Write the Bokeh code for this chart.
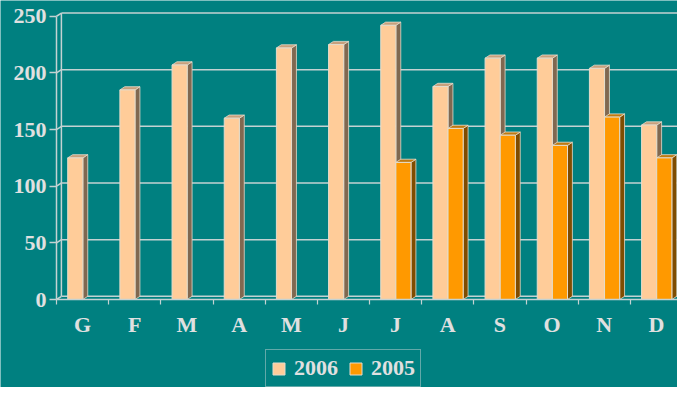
from bokeh.plotting import figure
from bokeh.models import FixedTicker, Legend, LegendItem, Range1d
from bokeh.embed import file_html
from bokeh.resources import INLINE

# ---- data ----
months = ["G", "F", "M", "A", "M", "J", "J", "A", "S", "O", "N", "D"]
v2006 = [125, 185, 207, 160, 222, 225, 242, 188, 213, 213, 204, 154]
v2005 = [None, None, None, None, None, None, 121, 151, 145, 136, 161, 125]
y_ticks = [0, 50, 100, 150, 200, 250]
series_names = ["2006", "2005"]

# ---- style ----
BG = "#008080"
TXT = "#e0e0e0"
GRID = "#c4d2d2"
FONT = "Liberation Serif"
C06 = ("#FFCC99", "#806850", "#C8A07C")
C05 = ("#FF9900", "#7F4C00", "#C07A10")
EDGE = "#e4dccc"

W, H = 677, 387
AXIS_X = 56           # pixel column of the front y axis
ZERO_Y = 299          # pixel row of value 0 (front floor edge)
PX_CAT = 52.17
PX_UNIT = 1.133
DX = 4.9 / PX_CAT
DY = 3.2 / PX_UNIT

p = figure(width=W, height=H, output_backend="svg", toolbar_location=None,
           x_range=Range1d(-AXIS_X / PX_CAT, (W - AXIS_X) / PX_CAT),
           y_range=Range1d(-(H - ZERO_Y) / PX_UNIT, ZERO_Y / PX_UNIT),
           min_border=0,
           background_fill_color=BG, border_fill_color=BG, outline_line_color=None)
p.grid.visible = False

xend = (W - AXIS_X) / PX_CAT

# back wall gridlines, connectors and wall edge
p.segment(x0=[DX] * len(y_ticks), y0=[t + DY for t in y_ticks],
          x1=[xend] * len(y_ticks), y1=[t + DY for t in y_ticks],
          line_color=GRID, line_width=1.5)
p.segment(x0=[0] * len(y_ticks), y0=y_ticks,
          x1=[DX] * len(y_ticks), y1=[t + DY for t in y_ticks],
          line_color=GRID, line_width=1.5)
p.segment(x0=[DX], y0=[DY], x1=[DX], y1=[y_ticks[-1] + DY], line_color=GRID, line_width=1.5)


def draw_series(vals, off_l, off_r, colors):
    idx = [i for i, v in enumerate(vals) if v is not None]
    L = [i + off_l for i in idx]
    R = [i + off_r for i in idx]
    V = [vals[i] for i in idx]
    p.patches(xs=[[r, r + DX, r + DX, r] for r in R],
              ys=[[0, DY, v + DY, v] for v in V],
              fill_color=colors[1], line_color=EDGE, line_width=0.8)
    p.patches(xs=[[l, r, r + DX, l + DX] for l, r in zip(L, R)],
              ys=[[v, v, v + DY, v + DY] for v in V],
              fill_color=colors[2], line_color=EDGE, line_width=0.8)
    return p.quad(left=L, right=R, bottom=[0] * len(V), top=V,
                  fill_color=colors[0], line_color=EDGE, line_width=1)


r06 = draw_series(v2006, 0.215, 0.505, C06)
r05 = draw_series(v2005, 0.505, 0.795, C05)

# y axis, pinned at x = 0
ya = p.yaxis[0]
ya.fixed_location = 0
ya.ticker = FixedTicker(ticks=y_ticks, minor_ticks=[])
ya.bounds = (0, 250)
ya.axis_line_color = GRID
ya.axis_line_width = 1.5
ya.major_tick_line_color = GRID
ya.major_tick_line_width = 1.5
ya.major_tick_out = 7
ya.major_tick_in = 0
ya.minor_tick_line_color = None
ya.major_label_standoff = 3
ya.major_label_text_font = FONT
ya.major_label_text_font_style = "bold"
ya.major_label_text_font_size = "22px"
ya.major_label_text_color = TXT

# x axis, pinned at value 0
xa = p.xaxis[0]
xa.fixed_location = 0
centers = [i + 0.5 for i in range(len(months))]
xa.ticker = FixedTicker(ticks=centers, minor_ticks=list(range(len(months) + 1)))
xa.major_label_overrides = {c: m for c, m in zip(centers, months)}
xa.bounds = (0, len(months))
xa.axis_line_color = GRID
xa.axis_line_width = 1.5
xa.major_tick_line_color = None
xa.major_tick_out = 0
xa.major_tick_in = 0
xa.minor_tick_line_color = GRID
xa.minor_tick_line_width = 1.2
xa.minor_tick_out = 5
xa.minor_tick_in = 0
xa.major_label_standoff = 7
xa.major_label_text_font = FONT
xa.major_label_text_font_style = "bold"
xa.major_label_text_font_size = "22px"
xa.major_label_text_color = TXT

legend = Legend(items=[LegendItem(label=series_names[0], renderers=[r06]),
                       LegendItem(label=series_names[1], renderers=[r05])],
                location=(265, 0), orientation="horizontal",
                background_fill_alpha=0, border_line_color=GRID, border_line_width=1.5,
                label_text_font=FONT, label_text_font_style="bold",
                label_text_font_size="22px", label_text_color=TXT,
                glyph_width=15, glyph_height=15, label_standoff=8, spacing=10,
                padding=5, margin=0)
p.add_layout(legend, "center")

open("out.html", "w").write(file_html(p, INLINE))
